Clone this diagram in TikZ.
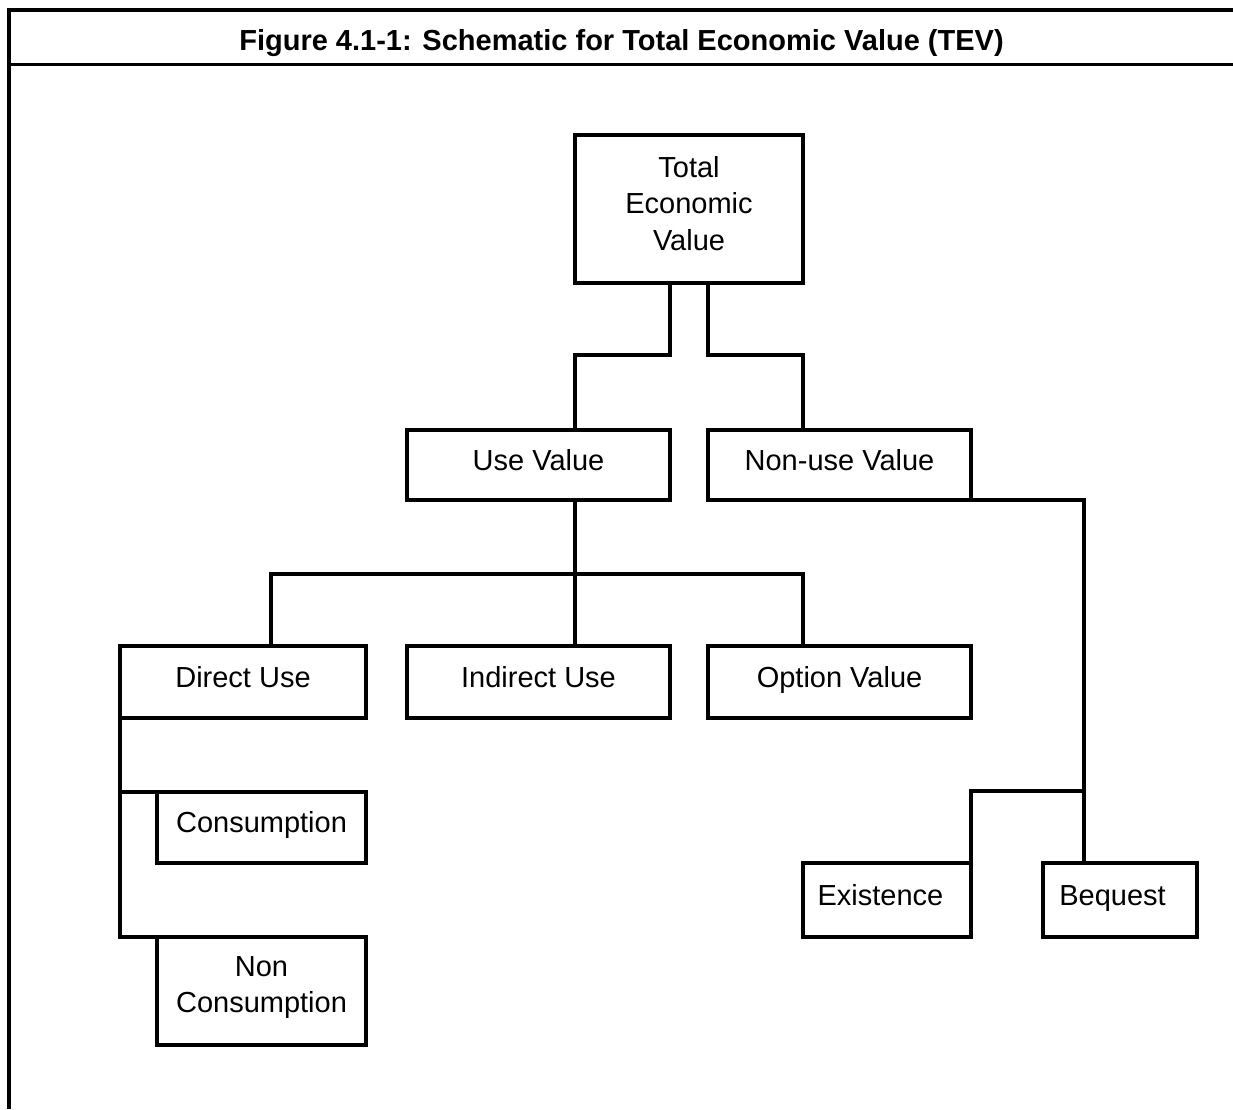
\documentclass[tikz,border=0pt]{standalone}
\usepackage{fontspec}
\setmainfont{Liberation Sans}
\begin{document}
\begin{tikzpicture}[x=1pt,y=-1pt,
  box/.style={draw, rectangle, line width=4pt, inner sep=0pt, outer sep=0pt,
    font=\fontsize{29}{36.5}\selectfont, text height=21pt, text depth=11pt},
  mbox/.style={draw, rectangle, line width=4pt, inner sep=0pt, outer sep=0pt,
    align=center, font=\fontsize{29}{36.5}\selectfont},
  conn/.style={line width=4pt, line join=miter},
  frameline/.style={line width=4pt},
  titleline/.style={line width=3pt}]
\useasboundingbox (0,0) rectangle (1233,1109);
% frame
\coordinate (ftr) at (1233,10);
\coordinate (ftl) at (9,10);
\coordinate (fbl) at (9,1109);
\coordinate (tl) at (9,64);
\coordinate (tr) at (1233,64);
\draw[frameline] (ftr) -- (ftl) -- (fbl);
\draw[titleline] (tl) -- (tr);
\node[anchor=base, font=\fontsize{29}{36.5}\selectfont\bfseries, inner sep=0pt] (title) at (621.5,50) {Figure 4.1-1: Schematic for Total Economic Value (TEV)};
% boxes
\node[mbox, minimum width=228, minimum height=148] (tev) at (689,209) {Total\\Economic\\Value\rule[-12pt]{0pt}{12pt}};
\node[box, minimum width=263, minimum height=70] (use) at (538.5,465) {Use Value};
\node[box, minimum width=263, minimum height=70] (nonuse) at (839.5,465) {Non-use Value};
\node[box, minimum width=246, minimum height=72] (direct) at (243,682) {Direct Use};
\node[box, minimum width=263, minimum height=72] (indirect) at (538.5,682) {Indirect Use};
\node[box, minimum width=263, minimum height=72] (option) at (839.5,682) {Option Value};
\node[box, minimum width=209, minimum height=71] (cons) at (261.5,827.5) {Consumption};
\node[mbox, minimum width=209, minimum height=108] (noncons) at (261.5,991) {Non\\Consumption\rule[-13pt]{0pt}{13pt}};
\node[box, minimum width=168, minimum height=74] (exist) at (887,900) {\hspace*{-13pt}Existence};
\node[box, minimum width=154, minimum height=74] (bequest) at (1120,900) {\hspace*{-15pt}Bequest};
% connectors
\draw[conn] (tev.south -| use.east) -- ++(0,72) -| (use.north -| tev.west);
\draw[conn] (tev.south -| nonuse.west) -- ++(0,72) -| (nonuse.north -| tev.east);
\coordinate (b1) at (271,574);
\coordinate (b2) at (803,574);
\draw[conn] (use.south -| tev.west) -- (indirect.north -| tev.west);
\draw[conn] (direct.north -| b1) -- (b1) -- (b2) -- (option.north -| b2);
\draw[conn] (direct.south west) |- (noncons.north west);
\draw[conn] (direct.west |- cons.north) -- (cons.north west);
\coordinate (bx) at (1084,791);
\draw[conn] (nonuse.south east) -| (bequest.north -| bx);
\draw[conn] (bx) -| (exist.north east);
\end{tikzpicture}
\end{document}
